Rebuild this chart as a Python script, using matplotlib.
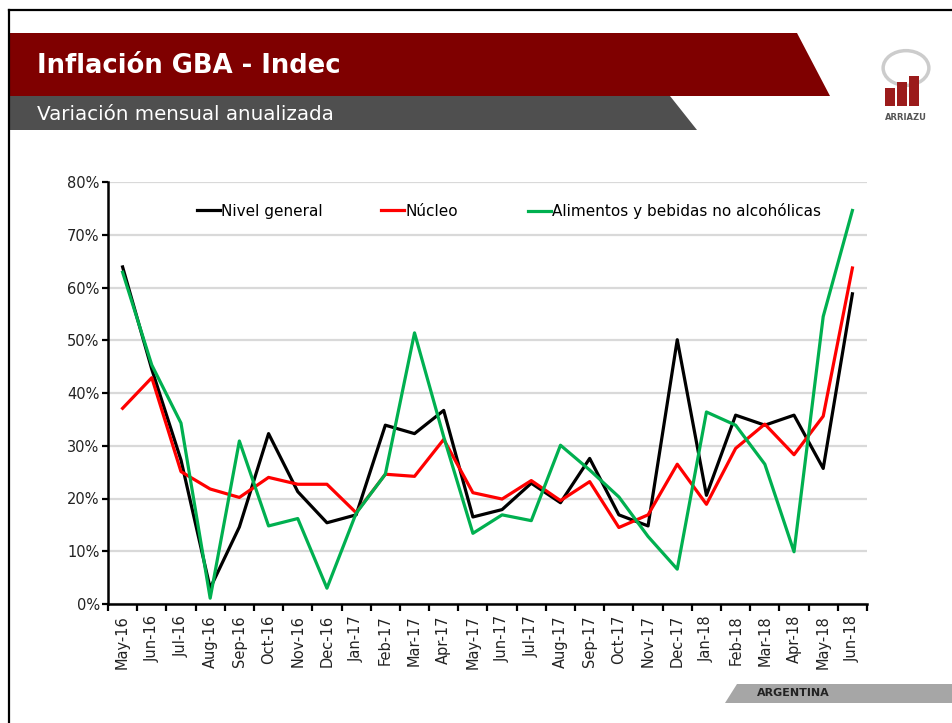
import numpy as np
import matplotlib
matplotlib.use('Agg')
import matplotlib.pyplot as plt
from matplotlib.patches import Polygon
from matplotlib.lines import Line2D
from matplotlib.ticker import FixedLocator, FuncFormatter

# ------------------------------------------------------------------------------
# data (% annualised monthly variation)
months = ['May-16', 'Jun-16', 'Jul-16', 'Aug-16', 'Sep-16', 'Oct-16', 'Nov-16', 'Dec-16',
          'Jan-17', 'Feb-17', 'Mar-17', 'Apr-17', 'May-17', 'Jun-17', 'Jul-17', 'Aug-17',
          'Sep-17', 'Oct-17', 'Nov-17', 'Dec-17', 'Jan-18', 'Feb-18', 'Mar-18', 'Apr-18',
          'May-18', 'Jun-18']

nivelGeneral = [63.9, 44.5, 27.3, 3.0, 14.6, 32.3, 21.3, 15.4, 16.9, 33.9, 32.3, 36.7, 16.5,
                17.9, 22.9, 19.2, 27.6, 16.9, 14.8, 50.1, 20.6, 35.8, 33.9, 35.8, 25.7, 58.8]

nucleo = [37.1, 42.9, 25.1, 21.8, 20.2, 24.0, 22.7, 22.7, 17.3, 24.6, 24.2, 31.2, 21.1,
          19.9, 23.4, 19.6, 23.2, 14.5, 16.9, 26.5, 18.9, 29.5, 34.1, 28.3, 35.6, 63.7]

alimentos = [62.9, 45.3, 34.3, 1.1, 30.9, 14.8, 16.2, 3.0, 17.2, 24.6, 51.4, 31.7, 13.4,
             16.9, 15.8, 30.1, 25.4, 20.3, 12.8, 6.6, 36.4, 33.9, 26.5, 9.9, 54.5, 74.6]

seriesNames = ['Nivel general', 'Núcleo', 'Alimentos y bebidas no alcohólicas']
yTicks = [0, 10, 20, 30, 40, 50, 60, 70, 80]

# ------------------------------------------------------------------------------
W, H = 953, 723
fig = plt.figure(figsize=(W / 100, H / 100), dpi=100)


def px(x, y):
    # pixel coords (top-left origin) -> figure fraction
    return (x / W, 1 - y / H)


def poly(points, color, z=1):
    fig.add_artist(Polygon([px(x, y) for x, y in points], closed=True,
                           facecolor=color, edgecolor='none', zorder=z,
                           transform=fig.transFigure))


# slide frame
fig.add_artist(Line2D([px(9, 0)[0], 1], [px(0, 10)[1]] * 2, color='black', lw=1.6,
                      transform=fig.transFigure))
fig.add_artist(Line2D([px(9, 0)[0]] * 2, [px(0, 10)[1], 0], color='black', lw=1.6,
                      transform=fig.transFigure))

# header banners
poly([(10, 96), (10, 130), (697, 130), (670, 96)], '#4f4f4f')
poly([(10, 33), (10, 96), (830, 96), (797, 33)], '#7f0000')
fig.text(*px(37, 66), 'Inflación GBA - Indec', color='white', fontsize=18.6,
         fontweight='bold', va='center', ha='left')
fig.text(*px(37, 115), 'Variación mensual anualizada', color='white', fontsize=14.3,
         va='center', ha='left')

# logo (rough)
fig.add_artist(plt.Circle(px(906, 68), 0.024, transform=fig.transFigure,
                          facecolor='none', edgecolor='#9a9a9a', lw=2.5, alpha=0.5))
for bx, by in [(885, 88), (897, 82), (909, 76)]:
    poly([(bx, by), (bx, 106), (bx + 10, 106), (bx + 10, by)], '#9b1b1b', z=3)
fig.text(*px(906, 117), 'ARRIAZU', fontsize=6, color='#555555', ha='center',
         va='center', fontweight='bold')

# footer
poly([(737, 684), (725, 703), (953, 703), (953, 684)], '#a6a6a6')
fig.text(*px(757, 693), 'ARGENTINA', fontsize=8, fontweight='bold', color='#222222',
         va='center', ha='left')

# ------------------------------------------------------------------------------
# chart
l, b = px(108, 604)
r, t = px(867, 182)
ax = fig.add_axes([l, b, r - l, t - b])

x_indexes = np.arange(len(months))
lineNivel, = ax.plot(x_indexes, nivelGeneral, color='black', lw=2.3, zorder=3)
lineNucleo, = ax.plot(x_indexes, nucleo, color='#ff0000', lw=2.3, zorder=3)
lineAlim, = ax.plot(x_indexes, alimentos, color='#00b050', lw=2.3, zorder=3)

ax.set_xlim(-0.5, len(months) - 0.5)
ax.set_ylim(0, 80)
ax.set_yticks(yTicks)
ax.yaxis.set_major_formatter(FuncFormatter(lambda v, p: f'{v:.0f}%'))
ax.grid(axis='y', color='#d9d9d9', lw=1.6)
ax.set_axisbelow(True)

# ticks at category borders, labels at centres
ax.xaxis.set_major_locator(FixedLocator(np.arange(len(months) + 1) - 0.5))
ax.xaxis.set_major_formatter(FuncFormatter(lambda v, p: ''))
ax.xaxis.set_minor_locator(FixedLocator(x_indexes))
ax.set_xticklabels(months, minor=True, rotation=90)
ax.tick_params(axis='x', which='minor', length=0, pad=8, labelsize=10.5, colors='#222222')
ax.tick_params(axis='x', which='major', length=5, width=1.6, direction='out')
ax.tick_params(axis='y', length=4, width=1.6, labelsize=10.5, labelcolor='#222222', pad=2)

for s in ['top', 'right']:
    ax.spines[s].set_visible(False)
for s in ['left', 'bottom']:
    ax.spines[s].set_linewidth(1.8)

# legend entries sit at uneven spacing in the original, so one legend per entry
for handle, name, xStart in [(lineNivel, seriesNames[0], 197),
                             (lineNucleo, seriesNames[1], 381),
                             (lineAlim, seriesNames[2], 528)]:
    fig.legend([handle], [name], loc='center left', bbox_to_anchor=px(xStart, 211),
               frameon=False, borderpad=0, borderaxespad=0, handlelength=1.5,
               handletextpad=0.1, fontsize=11)

plt.savefig('out.png', dpi=100)
plt.close()
